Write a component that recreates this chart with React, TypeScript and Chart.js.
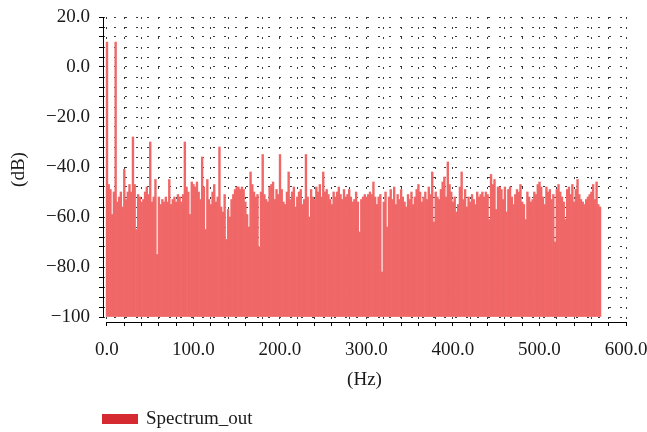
import React, { useEffect, useRef } from "react";
import { Chart, registerables } from "chart.js";

Chart.register(...registerables);

// ---- data ----
const SERIES_LABEL = "Spectrum_out";
const FREQ_STEP_HZ = 2; // spectral resolution of the bars
// Magnitude in dB, one value per 2 Hz bin starting at 0 Hz (0 .. 570 Hz)
const spectrumDb: number[] = [
  10, -47, -49, -59, -50, 10, -54, -52, -50, -56, // 0-18
  -41, -53, -50, -47, -50, -28, -47, -65, -51, -52, // 20-38
  -54, -53, -50, -48, -51, -30, -54, -52, -45, -75, // 40-58
  -52, -55, -53, -54, -52, -54, -45, -55, -53, -52, // 60-78
  -54, -51, -52, -54, -51, -30, -48, -50, -59, -46, // 80-98
  -47, -48, -46, -50, -53, -36, -48, -65, -45, -53, // 100-118
  -55, -50, -47, -54, -52, -32, -56, -58, -51, -69, // 120-138
  -57, -60, -53, -51, -49, -48, -48, -49, -48, -49, // 140-158
  -54, -59, -64, -42, -47, -50, -52, -51, -72, -50, // 160-178
  -35, -51, -53, -54, -48, -47, -46, -53, -49, -51, // 180-198
  -35, -49, -54, -55, -50, -42, -53, -50, -48, -56, // 200-218
  -52, -50, -49, -55, -53, -35, -52, -60, -49, -52, // 220-238
  -53, -48, -50, -47, -52, -42, -50, -49, -51, -53, // 240-258
  -55, -50, -52, -50, -48, -51, -53, -49, -52, -51, // 260-278
  -49, -52, -54, -53, -50, -54, -66, -53, -52, -51, // 280-298
  -52, -51, -50, -51, -46, -52, -55, -52, -51, -82, // 300-318
  -54, -50, -64, -52, -49, -53, -48, -55, -51, -53, // 320-338
  -49, -52, -54, -56, -51, -53, -50, -55, -52, -49, // 340-358
  -47, -50, -54, -52, -50, -53, -48, -51, -42, -62, // 360-378
  -50, -52, -53, -49, -46, -44, -52, -38, -47, -50, // 380-398
  -54, -52, -58, -55, -48, -42, -53, -49, -56, -52, // 400-418
  -54, -51, -53, -55, -50, -52, -51, -50, -52, -50, // 420-438
  -51, -61, -43, -47, -45, -57, -48, -48, -49, -53, // 440-458
  -48, -58, -49, -48, -52, -55, -51, -49, -50, -47, // 460-478
  -54, -55, -61, -50, -52, -54, -53, -50, -51, -47, // 480-498
  -46, -48, -52, -55, -48, -50, -49, -53, -51, -70, // 500-518
  -49, -47, -50, -52, -54, -61, -49, -48, -51, -47, // 520-538
  -54, -49, -45, -51, -53, -54, -55, -53, -52, -51, // 540-558
  -50, -47, -53, -46, -55, -56, // 560-570
];
const frequencies: number[] = spectrumDb.map((_, i) => i * FREQ_STEP_HZ);

const X_MIN = 0;
const X_MAX = 600;
const Y_MIN = -100;
const Y_MAX = 20;
const X_TICK_LABEL_EVERY = 100;
const Y_TICK_LABEL_EVERY = 20;

// ---- styles ----
const FONT_FAMILY = '"Liberation Serif", "Times New Roman", serif';
const BAR_COLOR = "#f06767";
const LEGEND_COLOR = "#d52b30";
const TEXT_COLOR = "#1a1a1a";
const GRID_COLOR = "#3a3a3a";

const legendPlugin = {
  id: "bottomLegend",
  afterDraw(chart: any) {
    const ctx = chart.ctx;
    const ds = chart.data.datasets[0];
    ctx.save();
    ctx.fillStyle = LEGEND_COLOR;
    ctx.fillRect(102, 414, 36, 10);
    ctx.font = `19px ${FONT_FAMILY}`;
    ctx.fillStyle = TEXT_COLOR;
    ctx.textBaseline = "middle";
    ctx.textAlign = "left";
    ctx.fillText(ds.label, 146, 419);
    ctx.restore();
  },
};

// Axis lines drawn separately so they do not join at the corner (offset axes)
const axisLinesPlugin = {
  id: "axisLines",
  afterDraw(chart: any) {
    const { ctx, chartArea, scales } = chart;
    const xs = scales.x;
    const ys = scales.y;
    ctx.save();
    ctx.strokeStyle = "#000";
    ctx.lineWidth = 1;
    ctx.beginPath();
    const lx = Math.round(chartArea.left) + 0.5;
    ctx.moveTo(lx, Math.round(ys.getPixelForValue(Y_MAX)));
    ctx.lineTo(lx, Math.round(ys.getPixelForValue(Y_MIN)) + 1);
    const by = Math.round(chartArea.bottom) + 0.5;
    ctx.moveTo(Math.round(xs.getPixelForValue(X_MIN)), by);
    ctx.lineTo(Math.round(xs.getPixelForValue(X_MAX)) + 1, by);
    ctx.stroke();
    ctx.restore();
  },
};

function fmtY(v: number): string {
  if (v % Y_TICK_LABEL_EVERY !== 0) return "";
  if (v === -100) return "\u2212100";
  return (v < 0 ? "\u2212" : "") + Math.abs(v).toFixed(1);
}

export default function App() {
  const canvasRef = useRef<HTMLCanvasElement | null>(null);

  useEffect(() => {
    document.body.style.margin = "0";
    const canvas = canvasRef.current;
    if (!canvas) return;
    const font = { family: FONT_FAMILY, size: 19 };
    const chart = new Chart(canvas, {
      type: "bar",
      data: {
        datasets: [
          {
            label: SERIES_LABEL,
            data: frequencies.map((f, i) => ({ x: f, y: spectrumDb[i] })),
            backgroundColor: BAR_COLOR,
            borderWidth: 0,
            base: Y_MIN,
            barPercentage: 1,
            categoryPercentage: 1,
          } as any,
        ],
      },
      options: {
        animation: false,
        responsive: true,
        maintainAspectRatio: false,
        layout: { padding: { top: 17, right: 21, left: 0, bottom: 0 } },
        plugins: { legend: { display: false }, tooltip: { enabled: false } },
        scales: {
          x: {
            type: "linear",
            offset: false,
            min: -4.62,
            max: X_MAX,
            ticks: {
              stepSize: 20,
              includeBounds: false,
              autoSkip: false,
              maxRotation: 0,
              minRotation: 0,
              padding: 13,
              color: TEXT_COLOR,
              font,
              callback: (v: any) => (Number(v) % X_TICK_LABEL_EVERY === 0 ? Number(v).toFixed(1) : ""),
            },
            grid: {
              offset: false,
              color: GRID_COLOR,
              lineWidth: 1,
              drawTicks: true,
              tickLength: 4,
              tickColor: "#000",
              tickWidth: 1,
            },
            border: { display: false, color: "#000", width: 1, dash: [2, 8] },
            title: {
              display: true,
              text: "(Hz)",
              color: TEXT_COLOR,
              font,
              padding: { top: 0, bottom: 41 },
            },
            afterFit: (s: any) => {
              s.height = 110;
              s.paddingLeft = 0;
              s.paddingRight = 0;
            },
          } as any,
          y: {
            type: "linear",
            min: -102,
            max: Y_MAX,
            ticks: {
              stepSize: 4,
              includeBounds: false,
              autoSkip: false,
              padding: 9,
              color: TEXT_COLOR,
              font,
              callback: (v: any) => fmtY(Number(v)),
            },
            grid: {
              color: GRID_COLOR,
              lineWidth: 1,
              drawTicks: true,
              tickLength: 4,
              tickColor: "#000",
              tickWidth: 1,
            },
            border: { display: false, color: "#000", width: 1, dash: [2, 9] },
            title: {
              display: true,
              text: "(dB)",
              color: TEXT_COLOR,
              font,
              padding: { top: 8, bottom: 0 },
            },
            afterFit: (s: any) => {
              s.width = 103;
              s.paddingTop = 0;
              s.paddingBottom = 0;
            },
          } as any,
        },
      },
      plugins: [legendPlugin, axisLinesPlugin],
    });
    return () => chart.destroy();
  }, []);

  return (
    <div style={{ width: 647, height: 432, position: "relative" }}>
      <canvas ref={canvasRef} />
    </div>
  );
}
